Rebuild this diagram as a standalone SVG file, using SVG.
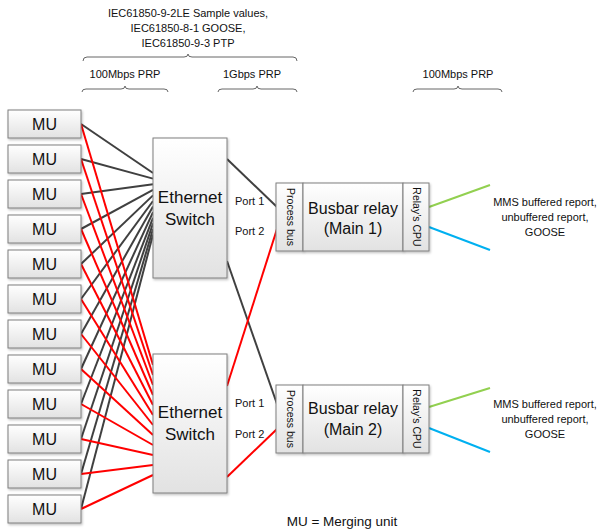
<svg xmlns="http://www.w3.org/2000/svg" width="600" height="531" viewBox="0 0 600 531">
<defs>
<linearGradient id="g" x1="0" y1="0" x2="0" y2="1">
<stop offset="0" stop-color="#ffffff"/>
<stop offset="1" stop-color="#e2e2e2"/>
</linearGradient>
<filter id="sh" x="-10%" y="-10%" width="130%" height="130%">
<feDropShadow dx="1" dy="1.5" stdDeviation="1" flood-color="#000" flood-opacity="0.25"/>
</filter>
</defs>
<style>
text{font-family:"Liberation Sans",Arial,sans-serif;fill:#111}
.box{fill:url(#g);stroke:#7f7f7f;stroke-width:1;filter:url(#sh)}
.mu{font-size:16px;text-anchor:middle}
.big{font-size:17px;text-anchor:middle}
.rel{font-size:16px;text-anchor:middle}
.sm{font-size:11px}
.c{text-anchor:middle}
.vt{font-size:10.5px;text-anchor:middle}
.brace{fill:none;stroke:#666;stroke-width:1}
.k{stroke:#404040;stroke-width:2;fill:none}
.r{stroke:#ff0000;stroke-width:2;fill:none}
.gr{stroke:#92d050;stroke-width:2}
.bl{stroke:#00b0f0;stroke-width:2}
</style>
<rect width="600" height="531" fill="#fff"/>
<g id="header">
<text class="sm c" x="188" y="17">IEC61850-9-2LE Sample values,</text>
<text class="sm c" x="188" y="32">IEC61850-8-1 GOOSE,</text>
<text class="sm c" x="188" y="47">IEC61850-9-3 PTP</text>
<path class="brace" d="M83,61 Q83,57 87,57 L184,57 Q188,57 188,54 Q188,57 192,57 L293,57 Q297,57 297,61"/>
<text class="sm c" x="125" y="78">100Mbps PRP</text>
<text class="sm c" x="252" y="78">1Gbps PRP</text>
<text class="sm c" x="458" y="78">100Mbps PRP</text>
<path class="brace" d="M82,92 Q82,89 86,89 L121,89 Q125,89 125,86 Q125,89 129,89 L164,89 Q168,89 168,92"/>
<path class="brace" d="M218,92 Q218,89 222,89 L253,89 Q257,89 257,86 Q257,89 261,89 L293,89 Q297,89 297,92"/>
<path class="brace" d="M413,92 Q413,89 417,89 L454,89 Q458,89 458,86 Q458,89 462,89 L498,89 Q502,89 502,92"/>
</g>
<g id="connectors">
<line class="k" x1="81" y1="124" x2="153" y2="173"/>
<line class="k" x1="81" y1="159" x2="153" y2="178.6"/>
<line class="k" x1="81" y1="194" x2="153" y2="184.2"/>
<line class="k" x1="81" y1="229" x2="153" y2="189.8"/>
<line class="k" x1="81" y1="264" x2="153" y2="195.4"/>
<line class="k" x1="81" y1="299" x2="153" y2="201"/>
<line class="k" x1="81" y1="334" x2="153" y2="206.6"/>
<line class="k" x1="81" y1="369" x2="153" y2="212.2"/>
<line class="k" x1="81" y1="404" x2="153" y2="217.8"/>
<line class="k" x1="81" y1="439" x2="153" y2="223.4"/>
<line class="k" x1="81" y1="474" x2="153" y2="229"/>
<line class="k" x1="81" y1="509" x2="153" y2="234.6"/>
<line class="r" x1="81" y1="124" x2="153" y2="365"/>
<line class="r" x1="81" y1="159" x2="153" y2="375"/>
<line class="r" x1="81" y1="194" x2="153" y2="385"/>
<line class="r" x1="81" y1="229" x2="153" y2="395"/>
<line class="r" x1="81" y1="264" x2="153" y2="405"/>
<line class="r" x1="81" y1="299" x2="153" y2="415"/>
<line class="r" x1="81" y1="334" x2="153" y2="425"/>
<line class="r" x1="81" y1="369" x2="153" y2="435"/>
<line class="r" x1="81" y1="404" x2="153" y2="445"/>
<line class="r" x1="81" y1="439" x2="153" y2="455"/>
<line class="r" x1="81" y1="474" x2="153" y2="465"/>
<line class="r" x1="81" y1="509" x2="153" y2="475"/>
<line class="k" x1="227" y1="159" x2="277" y2="207"/>
<line class="k" x1="227" y1="261" x2="277" y2="404"/>
<line class="r" x1="227" y1="386" x2="277" y2="229"/>
<line class="r" x1="227" y1="477" x2="277" y2="429"/>
<line class="gr" x1="429" y1="207" x2="490" y2="185"/>
<line class="bl" x1="429" y1="227" x2="490" y2="250"/>
<line class="gr" x1="429" y1="407" x2="490" y2="388"/>
<line class="bl" x1="429" y1="428" x2="490" y2="452"/>
</g>
<g id="mu1"><rect class="box" x="8" y="110" width="73" height="28"/><text class="mu" x="44.5" y="130">MU</text></g>
<g id="mu2"><rect class="box" x="8" y="145" width="73" height="28"/><text class="mu" x="44.5" y="165">MU</text></g>
<g id="mu3"><rect class="box" x="8" y="180" width="73" height="28"/><text class="mu" x="44.5" y="200">MU</text></g>
<g id="mu4"><rect class="box" x="8" y="215" width="73" height="28"/><text class="mu" x="44.5" y="235">MU</text></g>
<g id="mu5"><rect class="box" x="8" y="250" width="73" height="28"/><text class="mu" x="44.5" y="270">MU</text></g>
<g id="mu6"><rect class="box" x="8" y="285" width="73" height="28"/><text class="mu" x="44.5" y="305">MU</text></g>
<g id="mu7"><rect class="box" x="8" y="320" width="73" height="28"/><text class="mu" x="44.5" y="340">MU</text></g>
<g id="mu8"><rect class="box" x="8" y="355" width="73" height="28"/><text class="mu" x="44.5" y="375">MU</text></g>
<g id="mu9"><rect class="box" x="8" y="390" width="73" height="28"/><text class="mu" x="44.5" y="410">MU</text></g>
<g id="mu10"><rect class="box" x="8" y="425" width="73" height="28"/><text class="mu" x="44.5" y="445">MU</text></g>
<g id="mu11"><rect class="box" x="8" y="460" width="73" height="28"/><text class="mu" x="44.5" y="480">MU</text></g>
<g id="mu12"><rect class="box" x="8" y="495" width="73" height="28"/><text class="mu" x="44.5" y="515">MU</text></g>
<g id="switch1">
<rect class="box" x="153" y="138" width="74" height="140"/>
<text class="big" x="190" y="203">Ethernet</text>
<text class="big" x="190" y="225">Switch</text>
<text class="sm" x="235" y="205">Port 1</text>
<text class="sm" x="235" y="235">Port 2</text>
</g>
<g id="switch2">
<rect class="box" x="153" y="354" width="74" height="139"/>
<text class="big" x="190" y="418">Ethernet</text>
<text class="big" x="190" y="440">Switch</text>
<text class="sm" x="235" y="407">Port 1</text>
<text class="sm" x="235" y="438">Port 2</text>
</g>
<g id="relay1">
<rect class="box" x="276" y="183" width="27" height="68"/>
<rect class="box" x="303" y="183" width="100" height="68"/>
<rect class="box" x="403" y="183" width="26" height="68"/>
<text class="vt" transform="translate(290,217) rotate(90)" y="3.5">Process bus</text>
<text class="vt" transform="translate(416,217) rotate(90)" y="3.5">Relay’s CPU</text>
<text class="rel" x="353" y="214">Busbar relay</text>
<text class="rel" x="353" y="234">(Main 1)</text>
</g>
<g id="relay2">
<rect class="box" x="276" y="385" width="27" height="68"/>
<rect class="box" x="303" y="385" width="100" height="68"/>
<rect class="box" x="403" y="385" width="26" height="68"/>
<text class="vt" transform="translate(290,419) rotate(90)" y="3.5">Process bus</text>
<text class="vt" transform="translate(416,419) rotate(90)" y="3.5">Relay’s CPU</text>
<text class="rel" x="353" y="414">Busbar relay</text>
<text class="rel" x="353" y="435">(Main 2)</text>
</g>
<g id="labels">
<text class="sm c" x="545" y="206">MMS buffered report,</text>
<text class="sm c" x="545" y="221">unbuffered report,</text>
<text class="sm c" x="545" y="236">GOOSE</text>
<text class="sm c" x="545" y="408">MMS buffered report,</text>
<text class="sm c" x="545" y="423">unbuffered report,</text>
<text class="sm c" x="545" y="438">GOOSE</text>
<text class="c" x="342" y="526" font-size="13.5">MU = Merging unit</text>
</g>
</svg>
